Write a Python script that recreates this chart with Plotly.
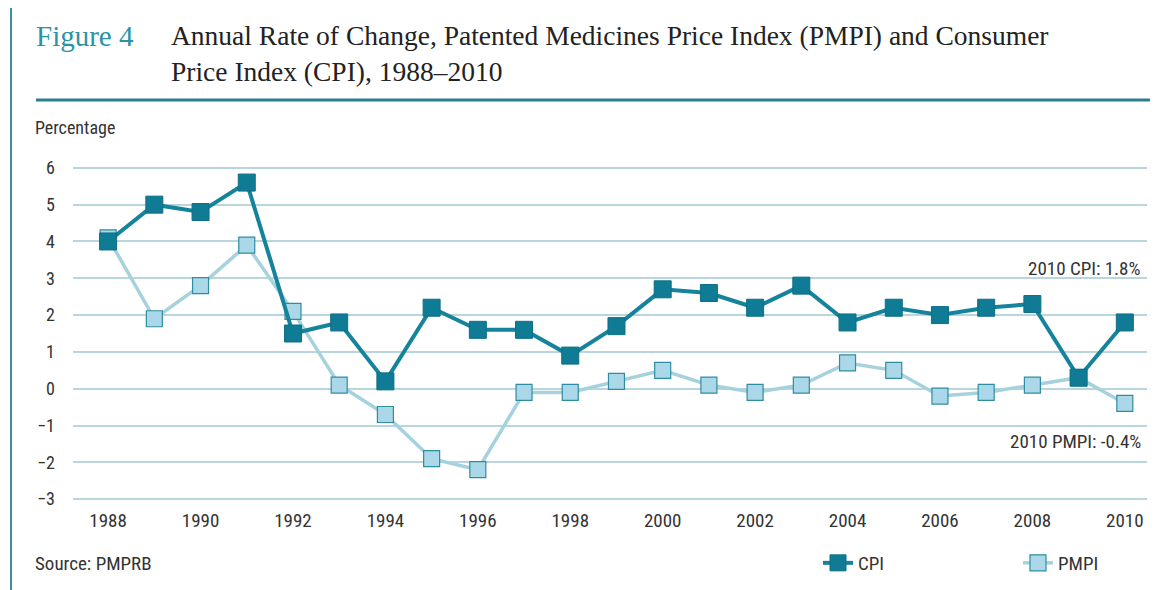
import plotly.graph_objects as go

years = list(range(1988, 2011))
cpi = [4.0, 5.0, 4.8, 5.6, 1.5, 1.8, 0.2, 2.2, 1.6, 1.6, 0.9, 1.7,
       2.7, 2.6, 2.2, 2.8, 1.8, 2.2, 2.0, 2.2, 2.3, 0.3, 1.8]
pmpi = [4.1, 1.9, 2.8, 3.9, 2.1, 0.1, -0.7, -1.9, -2.2, -0.1, -0.1, 0.2,
        0.5, 0.1, -0.1, 0.1, 0.7, 0.5, -0.2, -0.1, 0.1, 0.3, -0.4]
y_ticks = [-3, -2, -1, 0, 1, 2, 3, 4, 5, 6]
x_ticks = list(range(1988, 2011, 2))

dark = "#15839b"
light = "#a6d2de"
font_sans = "Liberation Sans Narrow, Roboto Condensed, Liberation Sans, Arial"
font_serif = "Liberation Serif, DejaVu Serif, serif"
txt = "#333333"

fig = go.Figure()
fig.add_trace(go.Scatter(
    x=years, y=pmpi, name="PMPI", mode="lines+markers", legend="legend2",
    line=dict(color=light, width=3.5),
    marker=dict(symbol="square", size=16, color="#abd8e8",
                line=dict(color="#2f8da1", width=1.2))))
fig.add_trace(go.Scatter(
    x=years, y=cpi, name="CPI", mode="lines+markers", legend="legend",
    line=dict(color=dark, width=4),
    marker=dict(symbol="square", size=17, color="#107b94",
                line=dict(color="#0d6f86", width=1))))

# page body has an 8px margin; plot area sits at window x 73..1147, y 166..501
def px(x):
    return (x - 73) / 1074

def py(y):
    return (501 - y) / 335

legend_style = dict(orientation="h", xanchor="left", y=py(563), yanchor="middle",
                    font=dict(size=19, color=txt), bgcolor="rgba(0,0,0,0)")

fig.update_layout(
    width=1159, height=590,
    margin=dict(l=65, r=20, t=158, b=97, autoexpand=False),
    paper_bgcolor="white", plot_bgcolor="white",
    font=dict(family=font_sans, size=19, color=txt),
    showlegend=True,
    legend=dict(x=px(818), **legend_style),
    legend2=dict(x=px(1018), **legend_style),
    xaxis=dict(range=[1987.24, 2010.48], tickvals=x_ticks, showgrid=False,
               zeroline=False, showline=False, ticks="", automargin=False,
               tickfont=dict(size=19, color=txt), ticklabelstandoff=6),
    yaxis=dict(range=[-3.05, 6.05], tickvals=y_ticks, showgrid=True,
               gridcolor="#b9d5dd", gridwidth=1.5, zeroline=False,
               showline=False, ticks="", automargin=False,
               tickfont=dict(size=18, color=txt), ticklabelstandoff=17),
    shapes=[
        # frame: top and left edges only
        dict(type="line", xref="paper", yref="paper",
             x0=px(11), x1=px(1170), y0=py(5), y1=py(5),
             line=dict(color="#4f9aa6", width=2)),
        dict(type="line", xref="paper", yref="paper",
             x0=px(11), x1=px(11), y0=py(5), y1=py(600),
             line=dict(color="#3f909e", width=2)),
        dict(type="line", xref="paper", yref="paper",
             x0=px(36), x1=px(1150), y0=py(100), y1=py(100),
             line=dict(color="#2b7e8e", width=3)),
    ],
    annotations=[
        dict(text="Figure 4", xref="paper", yref="paper", x=px(34), y=py(18),
             xanchor="left", yanchor="top", showarrow=False,
             font=dict(family=font_serif, size=29, color="#2b93a5")),
        dict(text="Annual Rate of Change, Patented Medicines Price Index (PMPI) and Consumer<br>"
                  "Price Index (CPI), 1988\u20132010",
             xref="paper", yref="paper", x=px(169), y=py(18), align="left",
             xanchor="left", yanchor="top", showarrow=False,
             font=dict(family=font_serif, size=27.5, color="#222222")),
        dict(text="Percentage", xref="paper", yref="paper", x=px(33), y=py(128),
             xanchor="left", yanchor="middle", showarrow=False,
             font=dict(size=18, color=txt)),
        dict(text="2010 CPI: 1.8%", xref="paper", yref="paper", x=px(1143),
             y=py(268), xanchor="right", yanchor="middle", showarrow=False,
             font=dict(size=19, color=txt)),
        dict(text="2010 PMPI: -0.4%", xref="paper", yref="paper", x=px(1143),
             y=py(441), xanchor="right", yanchor="middle", showarrow=False,
             font=dict(size=19, color=txt)),
        dict(text="Source: PMPRB", xref="paper", yref="paper", x=px(33),
             y=py(563), xanchor="left", yanchor="middle", showarrow=False,
             font=dict(size=19, color=txt)),
    ],
)

fig.write_html("out.html")
